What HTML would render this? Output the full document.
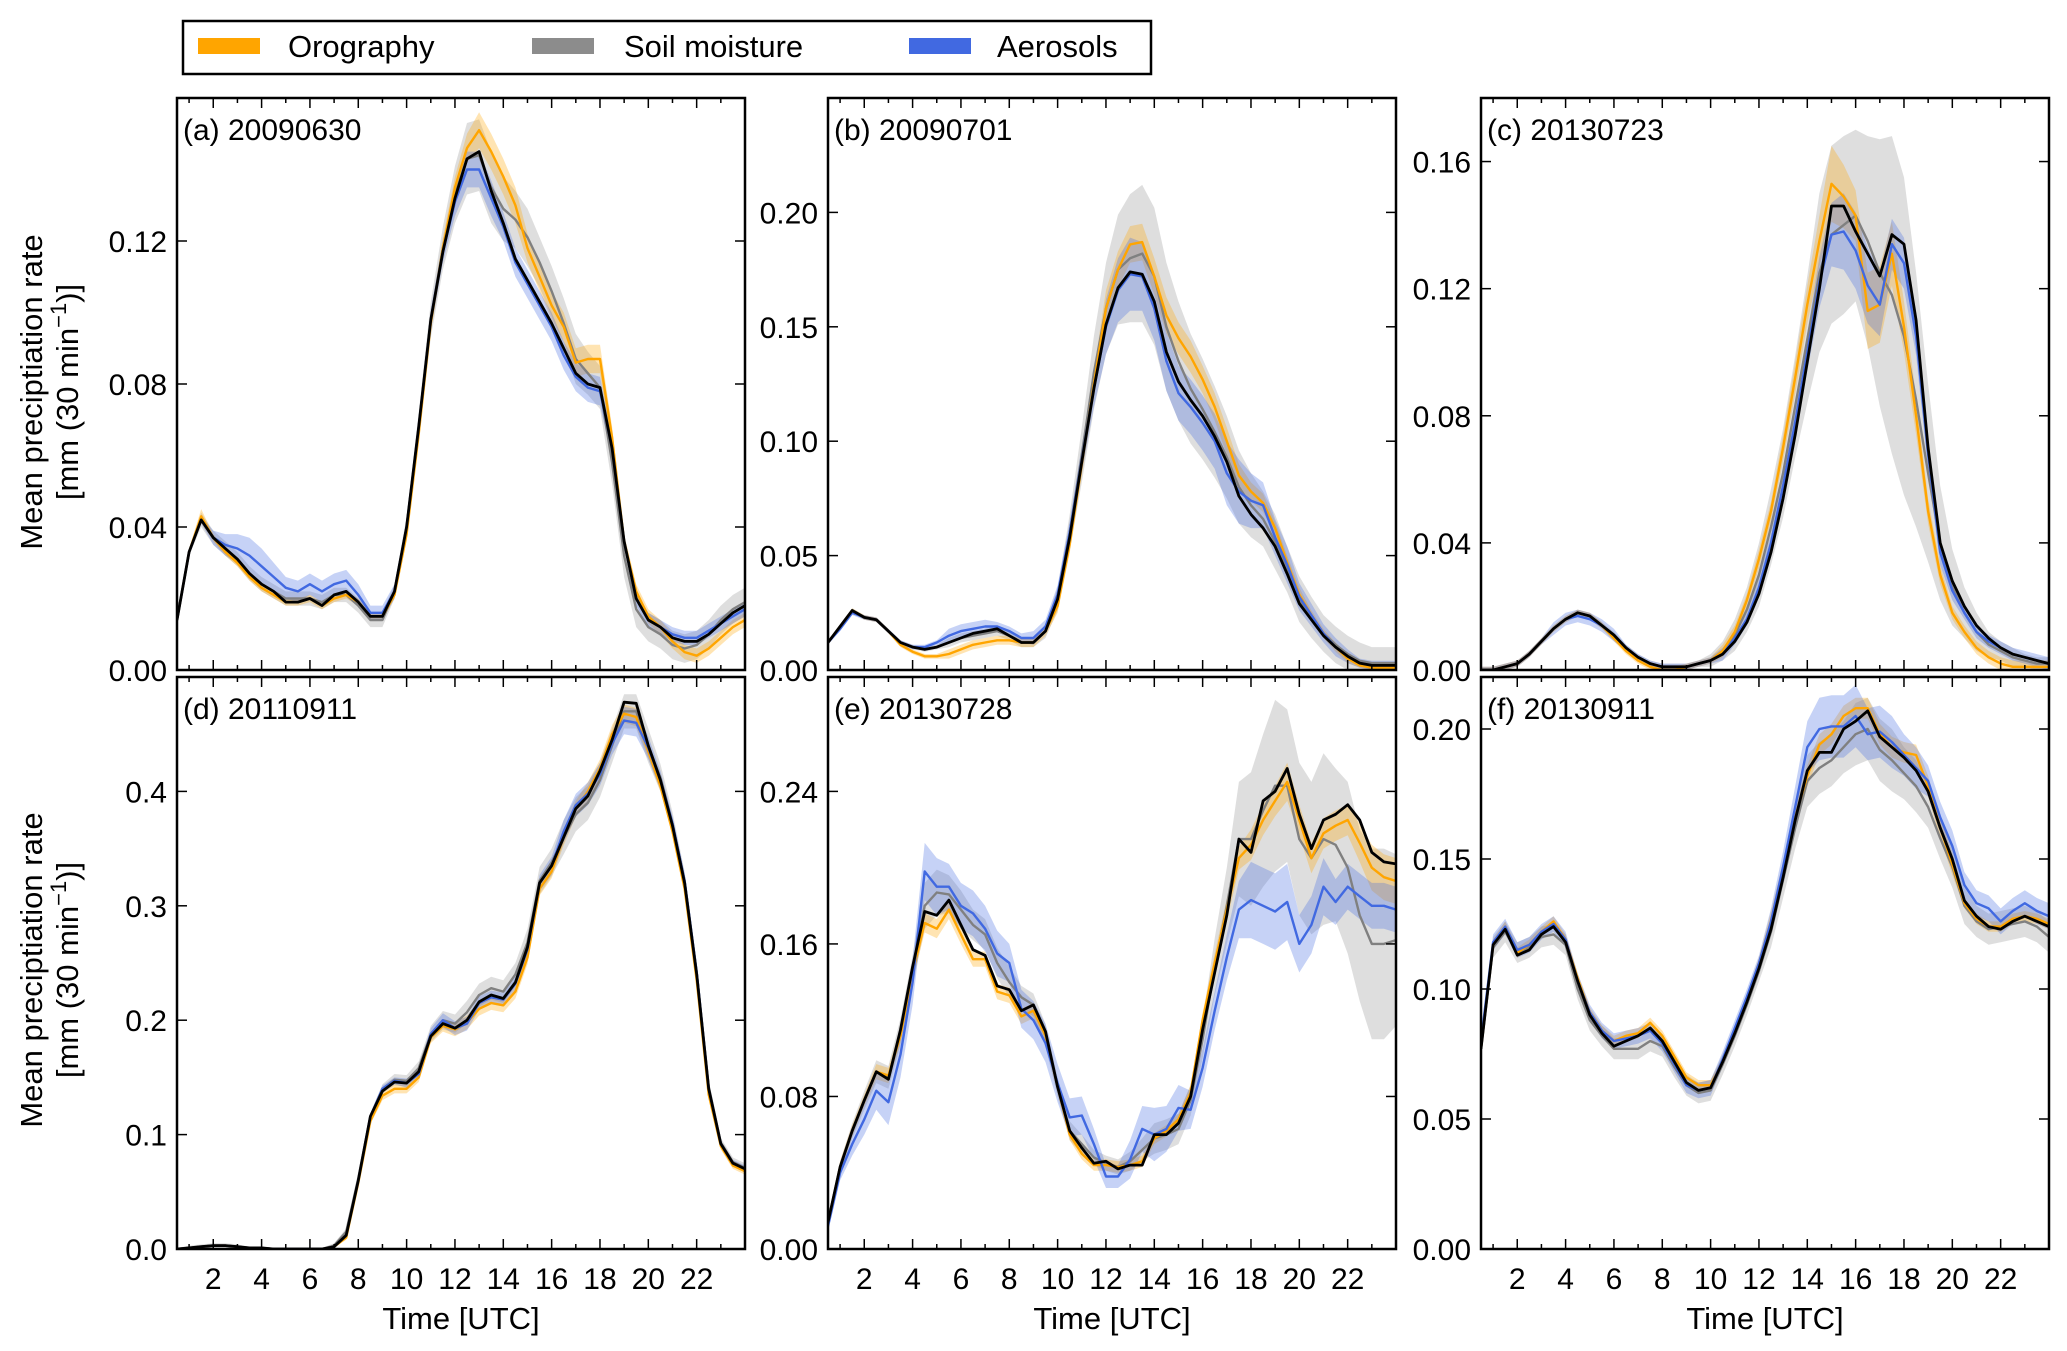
<!DOCTYPE html>
<html><head><meta charset="utf-8">
<style>
html,body{margin:0;padding:0;background:#fff;}
svg{display:block;font-family:"Liberation Sans",Arial,sans-serif;}
</style></head>
<body>
<svg id="fig" width="2067" height="1351" viewBox="0 0 2067 1351" xmlns="http://www.w3.org/2000/svg">
  <rect x="0" y="0" width="2067" height="1351" fill="#fff"/>
  <g>
    <rect x="183" y="21" width="968" height="53" fill="#fff" stroke="#000" stroke-width="2.5"/>
    <g>
      <rect x="198" y="38" width="62" height="16" fill="#FFA500"/>
      <text x="288" y="57" font-size="31">Orography</text>
    </g>
    <g>
      <rect x="532" y="38" width="62" height="16" fill="#8c8c8c"/>
      <text x="624" y="57" font-size="31">Soil moisture</text>
    </g>
    <g>
      <rect x="909" y="38" width="62" height="16" fill="#4169E1"/>
      <text x="997" y="57" font-size="31">Aerosols</text>
    </g>
  </g>
  <g transform="translate(42,392) rotate(-90)">
    <text x="0" y="0" text-anchor="middle" font-size="31">Mean preciptiation rate</text>
    <text x="0" y="36" text-anchor="middle" font-size="31">[mm (30 min<tspan dy="-12" font-size="22">−1</tspan><tspan dy="12">)]</tspan></text>
  </g>
  <g transform="translate(42,970) rotate(-90)">
    <text x="0" y="0" text-anchor="middle" font-size="31">Mean preciptiation rate</text>
    <text x="0" y="36" text-anchor="middle" font-size="31">[mm (30 min<tspan dy="-12" font-size="22">−1</tspan><tspan dy="12">)]</tspan></text>
  </g>
</svg>
<script>
const times=[0.5,1,1.5,2,2.5,3,3.5,4,4.5,5,5.5,6,6.5,7,7.5,8,8.5,9,9.5,10,10.5,11,11.5,12,12.5,13,13.5,14,14.5,15,15.5,16,16.5,17,17.5,18,18.5,19,19.5,20,20.5,21,21.5,22,22.5,23,23.5,24];
const xTicks=[2,4,6,8,10,12,14,16,18,20,22];
const xTickLabels=["2","4","6","8","10","12","14","16","18","20","22"];

// Panel a
const aBlack=[.014,.033,.042,.037,.034,.031,.027,.024,.022,.019,.019,.020,.018,.021,.022,.019,.015,.015,.022,.040,.068,.098,.117,.132,.143,.145,.134,.125,.115,.109,.103,.097,.090,.083,.080,.079,.062,.036,.020,.014,.012,.009,.008,.008,.010,.013,.016,.018];
const aOro=[.014,.033,.043,.037,.033,.030,.026,.023,.021,.019,.019,.020,.018,.020,.021,.019,.015,.015,.021,.038,.066,.097,.118,.135,.146,.151,.145,.138,.130,.118,.110,.102,.096,.086,.087,.087,.065,.036,.022,.015,.012,.008,.005,.004,.006,.009,.012,.014];
const aSoil=[.014,.033,.042,.037,.034,.031,.027,.024,.022,.020,.020,.020,.019,.021,.021,.018,.014,.014,.022,.040,.068,.098,.118,.133,.143,.144,.135,.129,.126,.121,.114,.106,.097,.087,.083,.079,.058,.032,.017,.012,.010,.007,.006,.007,.010,.014,.017,.019];
const aAer=[.014,.033,.042,.037,.035,.034,.032,.029,.026,.023,.022,.024,.022,.024,.025,.021,.016,.016,.022,.040,.068,.098,.117,.131,.140,.140,.132,.124,.114,.108,.102,.096,.088,.082,.079,.078,.062,.036,.020,.014,.012,.010,.009,.009,.011,.013,.015,.017];
const aSoilSpr=[.001,.001,.002,.002,.002,.002,.002,.002,.002,.002,.002,.002,.002,.002,.002,.002,.002,.002,.002,.003,.004,.005,.006,.008,.010,.010,.010,.009,.008,.008,.007,.007,.007,.007,.006,.006,.006,.006,.005,.004,.004,.004,.004,.004,.004,.004,.004,.004];
const aAerSpr=[.001,.001,.001,.002,.003,.004,.005,.005,.004,.003,.003,.003,.003,.003,.003,.003,.002,.002,.002,.002,.003,.003,.003,.004,.005,.005,.005,.004,.004,.004,.004,.004,.004,.004,.004,.004,.003,.002,.002,.002,.002,.002,.002,.002,.002,.002,.002,.002];
const aOroSpr=[.001,.001,.002,.001,.001,.001,.001,.001,.001,.001,.001,.001,.001,.001,.001,.001,.001,.001,.001,.002,.002,.002,.003,.003,.004,.005,.005,.005,.005,.004,.004,.004,.004,.004,.004,.004,.003,.002,.002,.002,.002,.002,.002,.002,.002,.002,.002,.002];
const aTicks=[0,0.04,0.08,0.12];
const aTickLabels=["0.00","0.04","0.08","0.12"];

// Panel b
const bBlack=[.012,.019,.026,.023,.022,.017,.012,.010,.009,.010,.012,.014,.016,.017,.018,.015,.012,.012,.017,.031,.058,.091,.123,.151,.167,.174,.173,.161,.139,.126,.118,.111,.102,.091,.076,.068,.062,.054,.042,.029,.022,.015,.010,.006,.003,.002,.002,.002];
const bOro=[.012,.019,.026,.023,.022,.017,.011,.008,.006,.006,.007,.009,.011,.012,.013,.013,.012,.012,.017,.028,.055,.090,.125,.158,.175,.186,.187,.172,.155,.145,.137,.127,.115,.100,.085,.078,.073,.062,.047,.033,.024,.016,.010,.005,.002,.001,.001,.001];
const bSoil=[.012,.019,.026,.023,.022,.017,.012,.010,.009,.010,.012,.014,.015,.016,.017,.015,.012,.012,.017,.031,.060,.094,.130,.158,.175,.180,.182,.172,.150,.135,.123,.114,.104,.093,.080,.072,.066,.056,.044,.031,.023,.016,.011,.007,.004,.003,.003,.003];
const bAer=[.012,.018,.025,.023,.022,.017,.012,.010,.010,.012,.015,.017,.018,.019,.019,.017,.014,.014,.019,.033,.060,.092,.123,.150,.166,.173,.172,.158,.135,.121,.115,.108,.100,.086,.078,.074,.072,.058,.046,.032,.024,.016,.010,.006,.003,.002,.002,.002];
const bSoilSpr=[.001,.001,.001,.001,.001,.001,.001,.001,.001,.001,.002,.002,.002,.002,.002,.002,.002,.002,.003,.005,.008,.012,.016,.020,.024,.028,.030,.030,.028,.026,.024,.022,.020,.018,.016,.014,.012,.012,.010,.010,.009,.008,.008,.008,.008,.007,.007,.007];
const bAerSpr=[.001,.001,.001,.001,.001,.001,.001,.001,.001,.001,.003,.003,.003,.003,.002,.002,.002,.003,.003,.004,.005,.006,.008,.012,.014,.016,.015,.014,.013,.012,.012,.012,.012,.014,.014,.012,.010,.008,.008,.006,.005,.004,.004,.003,.002,.002,.002,.002];
const bOroSpr=[.001,.001,.001,.001,.001,.001,.001,.001,.001,.001,.002,.002,.002,.002,.002,.002,.002,.002,.002,.003,.004,.005,.006,.008,.008,.008,.008,.008,.008,.007,.007,.006,.006,.006,.005,.004,.004,.003,.003,.003,.002,.002,.002,.002,.001,.001,.001,.001];
const bTicks=[0,0.05,0.10,0.15,0.20];
const bTickLabels=["0.00","0.05","0.10","0.15","0.20"];

// Panel c
const cBlack=[.000,.000,.001,.002,.005,.009,.013,.016,.018,.017,.014,.011,.007,.004,.002,.001,.001,.001,.002,.003,.005,.009,.015,.024,.037,.054,.074,.097,.120,.146,.146,.138,.131,.124,.137,.134,.110,.070,.040,.028,.020,.014,.010,.007,.005,.004,.003,.002];
const cOro=[.000,.000,.001,.002,.005,.009,.013,.016,.018,.017,.014,.010,.006,.003,.001,.000,.000,.001,.002,.003,.006,.012,.022,.035,.050,.070,.092,.115,.135,.153,.149,.143,.113,.115,.131,.108,.080,.050,.030,.018,.012,.007,.004,.002,.001,.001,.001,.001];
const cSoil=[.000,.000,.001,.002,.005,.009,.013,.016,.018,.017,.014,.011,.007,.004,.002,.001,.001,.001,.002,.003,.006,.011,.019,.030,.045,.062,.083,.104,.125,.137,.140,.143,.135,.125,.118,.105,.085,.062,.040,.026,.018,.012,.008,.006,.004,.003,.002,.002];
const cAer=[.000,.000,.001,.002,.005,.009,.013,.016,.017,.016,.014,.011,.007,.004,.002,.001,.001,.001,.002,.003,.005,.010,.016,.026,.040,.058,.078,.100,.122,.137,.138,.132,.121,.115,.134,.128,.105,.068,.037,.025,.018,.012,.009,.007,.005,.004,.003,.002];
const cSoilSpr=[.001,.001,.001,.001,.001,.001,.001,.001,.001,.001,.001,.001,.001,.001,.001,.001,.001,.001,.001,.002,.003,.005,.007,.010,.012,.014,.016,.020,.025,.028,.028,.027,.033,.042,.050,.050,.040,.028,.018,.012,.008,.006,.004,.003,.003,.002,.002,.002];
const cAerSpr=[.001,.001,.001,.001,.001,.001,.002,.002,.002,.002,.002,.002,.001,.001,.001,.001,.001,.001,.001,.001,.002,.002,.002,.003,.003,.004,.005,.006,.008,.010,.012,.012,.012,.010,.008,.008,.006,.005,.004,.003,.002,.002,.002,.002,.002,.002,.002,.002];
const cOroSpr=[.001,.001,.001,.001,.001,.001,.001,.001,.001,.001,.001,.001,.001,.001,.001,.001,.001,.001,.001,.001,.002,.002,.002,.003,.003,.004,.005,.006,.008,.012,.010,.008,.012,.012,.010,.008,.006,.004,.003,.002,.002,.002,.002,.002,.002,.002,.002,.002];
const cTicks=[0,0.04,0.08,0.12,0.16];
const cTickLabels=["0.00","0.04","0.08","0.12","0.16"];

// Panel d
const dBlack=[.000,.001,.002,.003,.003,.002,.001,.001,.000,.000,.000,.000,.000,.002,.012,.060,.116,.138,.146,.145,.155,.186,.197,.193,.200,.216,.222,.219,.233,.264,.320,.335,.360,.385,.396,.418,.445,.478,.477,.440,.410,.370,.320,.240,.140,.092,.075,.070];
const dOro=[.000,.001,.002,.003,.003,.002,.001,.001,.000,.000,.000,.000,.000,.002,.010,.058,.112,.134,.140,.140,.150,.185,.195,.192,.198,.210,.215,.213,.225,.255,.315,.330,.360,.385,.400,.420,.450,.468,.465,.435,.405,.365,.315,.235,.135,.090,.073,.068];
const dSoil=[.000,.001,.002,.003,.003,.002,.001,.001,.000,.000,.000,.000,.000,.003,.015,.062,.116,.140,.148,.147,.158,.188,.200,.197,.207,.222,.228,.225,.240,.268,.322,.338,.360,.380,.390,.410,.440,.470,.470,.440,.412,.372,.322,.242,.142,.093,.076,.071];
const dAer=[.000,.001,.002,.003,.003,.002,.001,.001,.000,.000,.000,.000,.000,.002,.012,.060,.116,.140,.147,.145,.153,.188,.200,.193,.197,.215,.220,.218,.232,.262,.320,.335,.365,.388,.398,.415,.442,.462,.460,.438,.410,.372,.322,.242,.140,.092,.075,.070];
const dSoilSpr=[.001,.002,.002,.002,.002,.002,.001,.001,.001,.001,.001,.001,.001,.002,.003,.004,.003,.004,.005,.005,.006,.007,.008,.008,.010,.010,.010,.010,.010,.012,.012,.012,.015,.015,.015,.015,.015,.015,.015,.015,.012,.010,.008,.006,.005,.004,.004,.004];
const dAerSpr=[.001,.001,.001,.001,.001,.001,.001,.001,.001,.001,.001,.001,.001,.001,.002,.002,.002,.003,.003,.004,.004,.005,.006,.006,.006,.006,.006,.006,.006,.007,.007,.008,.010,.010,.010,.010,.010,.012,.012,.010,.008,.006,.005,.004,.004,.003,.003,.003];
const dOroSpr=[.001,.001,.001,.001,.001,.001,.001,.001,.001,.001,.001,.001,.001,.001,.002,.002,.003,.004,.004,.004,.004,.005,.005,.006,.006,.006,.006,.006,.006,.006,.006,.006,.007,.007,.008,.008,.008,.008,.008,.006,.005,.004,.004,.004,.003,.003,.003,.003];
const dTicks=[0,0.1,0.2,0.3,0.4];
const dTickLabels=["0.0","0.1","0.2","0.3","0.4"];

// Panel e
const eBlack=[.014,.043,.062,.078,.093,.089,.115,.148,.177,.175,.183,.170,.157,.154,.138,.136,.125,.128,.114,.085,.062,.053,.045,.046,.042,.044,.044,.060,.060,.066,.080,.115,.145,.175,.215,.208,.235,.240,.252,.228,.210,.225,.228,.233,.225,.208,.203,.202];
const eOro=[.014,.043,.062,.078,.093,.091,.112,.145,.171,.168,.178,.165,.152,.152,.135,.133,.122,.125,.112,.085,.060,.050,.044,.044,.043,.044,.046,.058,.062,.068,.082,.120,.150,.178,.205,.212,.225,.235,.245,.225,.205,.218,.222,.225,.213,.200,.195,.193];
const eSoil=[.014,.043,.062,.078,.093,.090,.114,.146,.180,.187,.186,.178,.170,.165,.150,.140,.132,.128,.112,.085,.062,.055,.048,.045,.043,.046,.052,.058,.060,.063,.078,.110,.148,.180,.215,.215,.230,.243,.243,.215,.205,.215,.212,.200,.175,.160,.160,.162];
const eAer=[.012,.040,.055,.068,.083,.077,.102,.140,.198,.190,.190,.180,.176,.168,.155,.150,.126,.120,.108,.087,.069,.070,.055,.038,.038,.047,.063,.060,.063,.074,.073,.095,.125,.153,.178,.183,.180,.177,.182,.160,.170,.190,.182,.190,.185,.180,.180,.178];
const eSoilSpr=[.002,.003,.004,.005,.006,.006,.007,.008,.012,.012,.010,.010,.008,.008,.008,.008,.006,.006,.006,.005,.005,.005,.004,.004,.004,.005,.006,.008,.008,.008,.008,.010,.015,.020,.030,.035,.040,.045,.040,.040,.040,.045,.040,.045,.045,.050,.050,.045];
const eAerSpr=[.003,.004,.006,.008,.010,.012,.012,.012,.015,.015,.012,.012,.012,.012,.012,.010,.010,.010,.010,.010,.010,.010,.008,.006,.006,.010,.012,.014,.012,.012,.010,.010,.010,.012,.015,.020,.020,.020,.020,.015,.015,.015,.012,.012,.012,.012,.012,.012];
const eOroSpr=[.002,.003,.003,.003,.004,.004,.004,.004,.005,.005,.005,.005,.004,.004,.004,.004,.004,.004,.004,.003,.003,.003,.003,.003,.003,.003,.003,.003,.003,.003,.004,.004,.005,.006,.006,.008,.008,.008,.010,.008,.008,.008,.008,.008,.010,.012,.012,.012];
const eTicks=[0,0.08,0.16,0.24];
const eTickLabels=["0.00","0.08","0.16","0.24"];

// Panel f
const fBlack=[.077,.117,.123,.113,.115,.121,.124,.118,.103,.090,.083,.078,.080,.082,.085,.080,.072,.064,.061,.062,.072,.083,.095,.108,.123,.143,.165,.184,.191,.191,.200,.203,.207,.197,.193,.189,.184,.176,.162,.150,.134,.128,.124,.123,.126,.128,.126,.124];
const fOro=[.077,.117,.124,.114,.117,.122,.126,.119,.104,.091,.084,.080,.082,.083,.087,.082,.074,.066,.063,.063,.072,.083,.096,.110,.126,.145,.166,.182,.194,.198,.205,.208,.208,.198,.193,.191,.190,.178,.162,.148,.133,.127,.124,.124,.127,.128,.127,.125];
const fSoil=[.077,.116,.122,.114,.116,.120,.121,.117,.100,.088,.082,.077,.077,.077,.080,.078,.070,.063,.060,.061,.071,.082,.094,.107,.122,.142,.162,.180,.185,.188,.193,.198,.200,.192,.188,.183,.178,.170,.158,.147,.132,.126,.123,.124,.125,.126,.124,.120];
const fAer=[.080,.118,.124,.115,.117,.122,.125,.119,.103,.091,.084,.080,.081,.082,.084,.079,.071,.063,.061,.062,.073,.085,.097,.110,.126,.147,.170,.193,.200,.201,.201,.205,.198,.199,.195,.190,.185,.180,.166,.155,.140,.133,.131,.126,.130,.133,.130,.128];
const fSoilSpr=[.004,.004,.004,.004,.004,.004,.004,.004,.004,.004,.004,.004,.004,.004,.004,.004,.004,.004,.004,.004,.004,.004,.004,.004,.006,.007,.008,.010,.010,.010,.010,.012,.012,.012,.012,.010,.010,.008,.008,.008,.007,.006,.006,.006,.006,.006,.006,.006];
const fAerSpr=[.003,.003,.003,.003,.003,.003,.003,.003,.003,.003,.003,.003,.003,.003,.003,.003,.003,.003,.003,.003,.003,.003,.003,.003,.005,.006,.008,.010,.012,.012,.012,.012,.010,.010,.010,.008,.008,.006,.006,.006,.005,.005,.005,.005,.005,.005,.005,.005];
const fOroSpr=[.002,.002,.002,.002,.002,.002,.002,.002,.002,.002,.002,.002,.002,.002,.002,.002,.002,.002,.002,.002,.002,.002,.002,.002,.004,.004,.004,.004,.004,.004,.004,.004,.004,.004,.004,.004,.004,.004,.004,.004,.002,.002,.002,.002,.002,.002,.002,.002];
const fTicks=[0,0.05,0.10,0.15,0.20];
const fTickLabels=["0.00","0.05","0.10","0.15","0.20"];

const NS="http://www.w3.org/2000/svg";
const svg=document.getElementById('fig');
function mk(tag,attrs,parent){const e=document.createElementNS(NS,tag);for(const k in attrs)e.setAttribute(k,attrs[k]);(parent||svg).appendChild(e);return e;}

const panels=[
 {id:'a',label:'(a) 20090630',x0:177,y0:98,ymax:0.16,k:aBlack,o:aOro,s:aSoil,b:aAer,ss:aSoilSpr,bs:aAerSpr,os:aOroSpr,ticks:aTicks,tl:aTickLabels,bottom:false},
 {id:'b',label:'(b) 20090701',x0:828,y0:98,ymax:0.25,k:bBlack,o:bOro,s:bSoil,b:bAer,ss:bSoilSpr,bs:bAerSpr,os:bOroSpr,ticks:bTicks,tl:bTickLabels,bottom:false},
 {id:'c',label:'(c) 20130723',x0:1481,y0:98,ymax:0.18,k:cBlack,o:cOro,s:cSoil,b:cAer,ss:cSoilSpr,bs:cAerSpr,os:cOroSpr,ticks:cTicks,tl:cTickLabels,bottom:false},
 {id:'d',label:'(d) 20110911',x0:177,y0:677,ymax:0.5,k:dBlack,o:dOro,s:dSoil,b:dAer,ss:dSoilSpr,bs:dAerSpr,os:dOroSpr,ticks:dTicks,tl:dTickLabels,bottom:true},
 {id:'e',label:'(e) 20130728',x0:828,y0:677,ymax:0.30,k:eBlack,o:eOro,s:eSoil,b:eAer,ss:eSoilSpr,bs:eAerSpr,os:eOroSpr,ticks:eTicks,tl:eTickLabels,bottom:true},
 {id:'f',label:'(f) 20130911',x0:1481,y0:677,ymax:0.22,k:fBlack,o:fOro,s:fSoil,b:fAer,ss:fSoilSpr,bs:fAerSpr,os:fOroSpr,ticks:fTicks,tl:fTickLabels,bottom:true}
];
const W=568,H=572,XMIN=0.5,XMAX=24;

panels.forEach(p=>{
  const xs=t=>p.x0+(t-XMIN)/(XMAX-XMIN)*W;
  const ys=v=>p.y0+H-(v/p.ymax)*H;
  const g=mk('g',{});
  
  
  const cp=mk('clipPath',{id:'clip-'+p.id},g);
  mk('rect',{x:p.x0,y:p.y0,width:W,height:H},cp);
  const plot=mk('g',{'clip-path':'url(#clip-'+p.id+')'},g);
  
  
  function band(mean,spr,fill,op,name){
    let d='';
    times.forEach((t,i)=>{d+=(i?'L':'M')+xs(t).toFixed(1)+','+ys(mean[i]+spr[i]).toFixed(1);});
    for(let i=times.length-1;i>=0;i--){d+='L'+xs(times[i]).toFixed(1)+','+ys(Math.max(0,mean[i]-spr[i])).toFixed(1);}
    const e=mk('path',{d:d+'Z',fill:fill,'fill-opacity':op,stroke:'none'},plot);
    
    
  }
  function line(vals,color,w,name){
    const pts=times.map((t,i)=>xs(t).toFixed(1)+','+ys(vals[i]).toFixed(1)).join(' ');
    const e=mk('polyline',{points:pts,fill:'none',stroke:color,'stroke-width':w,'stroke-linejoin':'round'},plot);
    
    
  }
  band(p.s,p.ss,'#a0a0a0',0.35,'soil-moisture-band-'+p.id);
  band(p.o,p.os,'#FFA500',0.3,'orography-band-'+p.id);
  band(p.b,p.bs,'#4169E1',0.3,'aerosols-band-'+p.id);
  line(p.s,'#808080',2.4,'soil-moisture-line-'+p.id);
  line(p.o,'#FFA500',2.4,'orography-line-'+p.id);
  line(p.b,'#4169E1',2.4,'aerosols-line-'+p.id);
  line(p.k,'#000',2.8,'control-line-'+p.id);
  const fr=mk('rect',{x:p.x0,y:p.y0,width:W,height:H,fill:'none',stroke:'#000','stroke-width':2.5},g);
  
  
  for(let h=1;h<=23;h++){
    const x=xs(h), L=(h%2===0)?10:5;
    mk('line',{x1:x,x2:x,y1:p.y0+H,y2:p.y0+H-L,stroke:'#000','stroke-width':1.5},g);
    mk('line',{x1:x,x2:x,y1:p.y0,y2:p.y0+L,stroke:'#000','stroke-width':1.5},g);
  }
  if(p.bottom){
    xTicks.forEach((v,i)=>{
      const t=mk('text',{x:xs(v),y:p.y0+H+40,'text-anchor':'middle','font-size':30},g);
      t.textContent=xTickLabels[i];
      
      
    });
    const xt=mk('text',{x:p.x0+W/2,y:p.y0+H+80,'text-anchor':'middle','font-size':31},g);
    xt.textContent='Time [UTC]';
    
    
  }
  p.ticks.forEach((v,i)=>{
    const y=ys(v);
    mk('line',{x1:p.x0,x2:p.x0+10,y1:y,y2:y,stroke:'#000','stroke-width':1.5},g);
    mk('line',{x1:p.x0+W,x2:p.x0+W-10,y1:y,y2:y,stroke:'#000','stroke-width':1.5},g);
    const t=mk('text',{x:p.x0-10,y:y+11,'text-anchor':'end','font-size':30},g);
    t.textContent=p.tl[i];
    
    
  });
  const lab=mk('text',{x:p.x0+6,y:p.y0+42,'font-size':30},g);
  lab.textContent=p.label;
  
  
});
</script>
</body></html>
